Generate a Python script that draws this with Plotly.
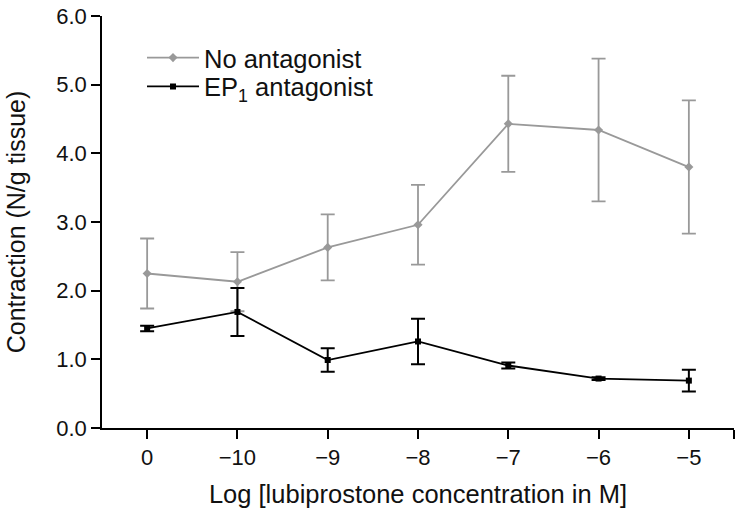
import plotly.graph_objects as go

categories = ["0", "\u221210", "\u22129", "\u22128", "\u22127", "\u22126", "\u22125"]
no_antag_mean = [2.25, 2.13, 2.63, 2.96, 4.43, 4.34, 3.80]
no_antag_err = [0.51, 0.43, 0.48, 0.58, 0.70, 1.04, 0.97]
ep1_mean = [1.45, 1.69, 0.99, 1.26, 0.91, 0.72, 0.69]
ep1_err = [0.04, 0.35, 0.17, 0.33, 0.045, 0.02, 0.16]

xpos = list(range(len(categories)))
FONT = "Liberation Sans"
TXT = "#111111"

fig = go.Figure()
fig.add_trace(go.Scatter(
    x=xpos, y=no_antag_mean, mode="lines+markers", name="No antagonist",
    line=dict(color="#999999", width=1.8),
    marker=dict(symbol="diamond", size=7, color="#999999"),
    error_y=dict(type="data", array=no_antag_err, visible=True,
                 color="#999999", thickness=1.8, width=7),
    legend="legend",
))
fig.add_trace(go.Scatter(
    x=xpos, y=ep1_mean, mode="lines+markers", name="EP<sub>1</sub> antagonist",
    line=dict(color="#000000", width=1.8),
    marker=dict(symbol="square", size=6, color="#000000"),
    error_y=dict(type="data", array=ep1_err, visible=True,
                 color="#000000", thickness=2, width=7),
    legend="legend2",
))

leg_common = dict(xanchor="left", yanchor="middle", bgcolor="rgba(0,0,0,0)",
                  font=dict(size=25.5, family=FONT, color=TXT), itemwidth=52)

fig.update_layout(
    width=741, height=513,
    margin=dict(l=102, r=7, t=16, b=85),
    paper_bgcolor="white", plot_bgcolor="white",
    font=dict(family=FONT, size=22, color=TXT),
    showlegend=True,
    legend=dict(x=0.0633, y=0.898, **leg_common),
    legend2=dict(x=0.0633, y=0.828, **leg_common),
    xaxis=dict(
        range=[-0.5, 6.5], automargin=False,
        tickvals=xpos + [6.5], ticktext=categories + [""],
        showline=True, linecolor="#000000", linewidth=1.5,
        ticks="outside", ticklen=9, tickwidth=1.5, tickcolor="#000000",
        showgrid=False, zeroline=False,
        tickfont=dict(size=22, family=FONT, color=TXT),
        title=dict(text="Log [lubiprostone concentration in M]",
                   font=dict(size=25.5, family=FONT, color=TXT), standoff=16),
    ),
    yaxis=dict(
        range=[0, 6], dtick=1, tickformat=".1f", automargin=False,
        showline=True, linecolor="#000000", linewidth=1.5,
        ticks="outside", ticklen=9, tickwidth=1.5, tickcolor="#000000",
        showgrid=False, zeroline=False,
        tickfont=dict(size=22, family=FONT, color=TXT),
        title=dict(text="Contraction (N/g tissue)",
                   font=dict(size=25, family=FONT, color=TXT), standoff=24),
    ),
)

fig.write_html(
    "out.html",
    config={"displayModeBar": False},
    post_script="document.body.style.margin='0';document.body.style.padding='0';",
)
